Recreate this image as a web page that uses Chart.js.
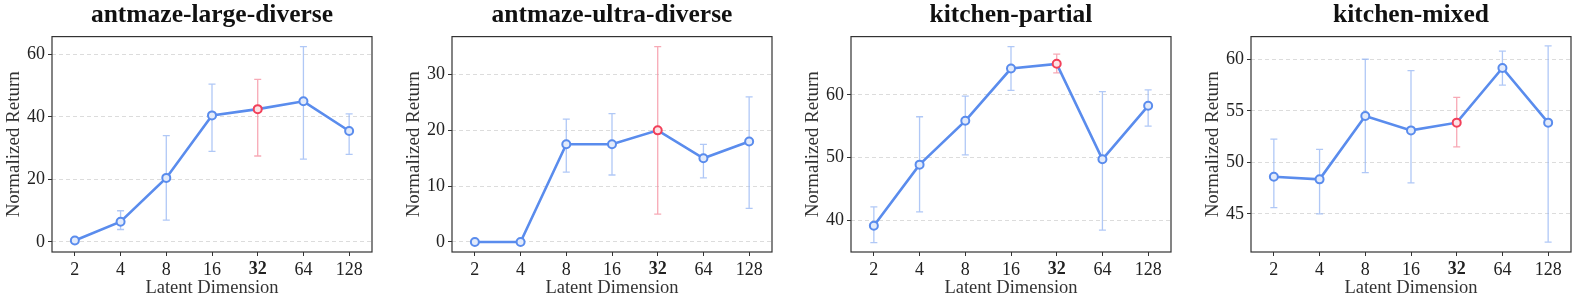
<!DOCTYPE html>
<html>
<head>
<meta charset="utf-8">
<script src="https://cdn.jsdelivr.net/npm/chart.js@4.4.1/dist/chart.umd.min.js"></script>
<style>
  body { margin: 0; background: #fff; }
  #wrap { position: relative; width: 1577px; height: 305px; }
  .panel { position: absolute; top: 0; width: 378px; height: 305px; }
</style>
</head>
<body>
<div id="wrap">
  <div class="panel" style="left:0px"><canvas id="c1" width="378" height="305"></canvas></div>
  <div class="panel" style="left:400px"><canvas id="c2" width="378" height="305"></canvas></div>
  <div class="panel" style="left:799px"><canvas id="c3" width="378" height="305"></canvas></div>
  <div class="panel" style="left:1199px"><canvas id="c4" width="378" height="305"></canvas></div>
</div>
<script>
const dims = ['2', '4', '8', '16', '32', '64', '128'];
const highlight = '32';

// antmaze-large-diverse
const largeMean = [0.5, 6.5, 20.5, 40.5, 42.5, 45, 35.5];
const largeLow  = [0.3, 4, 7, 29, 27.5, 26.5, 28];
const largeHigh = [0.7, 10, 34, 50.5, 52, 62.5, 41];
const largeTicks = [0, 20, 40, 60];

// antmaze-ultra-diverse
const ultraMean = [0, 0, 17.5, 17.5, 20, 15, 18];
const ultraLow  = [0, 0, 12.5, 12, 5, 11.5, 6];
const ultraHigh = [0, 0, 22, 23, 35, 17.5, 26];
const ultraTicks = [0, 10, 20, 30];

// kitchen-partial
const partialMean = [39.1, 48.85, 55.85, 64.2, 64.95, 49.7, 58.25];
const partialLow  = [36.4, 41.3, 50.4, 60.7, 63.5, 38.4, 55.0];
const partialHigh = [42.1, 56.5, 59.8, 67.7, 66.5, 60.5, 60.8];
const partialTicks = [40, 50, 60];

// kitchen-mixed
const mixedMean = [48.6, 48.35, 54.5, 53.1, 53.85, 59.15, 53.85];
const mixedLow  = [45.6, 45, 49, 48, 51.5, 57.5, 42.25];
const mixedHigh = [52.25, 51.25, 60, 58.9, 56.3, 60.8, 61.3];
const mixedTicks = [45, 50, 55, 60];

const blue = '#5a8ced';
const blueFill = '#e3ebfb';
const blueErr = 'rgba(150,182,243,0.75)';
const red = '#f2405a';
const redFill = '#fde2e6';
const redErr = 'rgba(244,140,156,0.75)';
const serif = "'Liberation Serif', 'Times New Roman', serif";

const errorBars = {
  id: 'errorBars',
  beforeDatasetsDraw(chart, args, opts) {
    const {ctx, scales: {x, y}} = chart;
    ctx.save();
    ctx.lineWidth = 1.3;
    opts.low.forEach((lo, i) => {
      const px = x.getPixelForValue(i);
      const y1 = y.getPixelForValue(lo);
      const y2 = y.getPixelForValue(opts.high[i]);
      ctx.strokeStyle = dims[i] === highlight ? redErr : blueErr;
      ctx.beginPath();
      ctx.moveTo(px, y1); ctx.lineTo(px, y2);
      ctx.moveTo(px - 3.5, y1); ctx.lineTo(px + 3.5, y1);
      ctx.moveTo(px - 3.5, y2); ctx.lineTo(px + 3.5, y2);
      ctx.stroke();
    });
    ctx.restore();
  }
};

const frame = {
  id: 'frame',
  afterDatasetsDraw(chart) {
    const {ctx, chartArea: a} = chart;
    ctx.save();
    ctx.strokeStyle = '#333';
    ctx.lineWidth = 1.2;
    ctx.strokeRect(a.left, a.top, a.right - a.left, a.bottom - a.top);
    ctx.restore();
  }
};

function makeChart(id, title, mean, low, high, ticks, yMin, yMax) {
  return new Chart(document.getElementById(id), {
    type: 'line',
    data: {
      labels: dims,
      datasets: [{
        data: mean,
        borderColor: blue,
        borderWidth: 2.6,
        pointRadius: 4,
        pointBorderWidth: 2,
        pointBorderColor: dims.map(d => d === highlight ? red : blue),
        pointBackgroundColor: dims.map(d => d === highlight ? redFill : blueFill),
        tension: 0
      }]
    },
    plugins: [errorBars, frame],
    options: {
      responsive: false,
      animation: false,
      layout: { padding: { left: 0, right: 6, top: 0, bottom: 0 } },
      plugins: {
        legend: { display: false },
        tooltip: { enabled: false },
        title: {
          display: true,
          fullSize: false,
          text: title,
          color: '#111',
          font: { family: serif, size: 25.5, weight: 'bold' },
          padding: { top: 0, bottom: 6 }
        },
        errorBars: { low: low, high: high }
      },
      scales: {
        x: {
          offset: true,
          border: { display: false },
          grid: { drawOnChartArea: false, drawTicks: true, tickLength: 4, tickColor: '#333' },
          ticks: {
            padding: 3,
            color: '#222',
            font: ctx => ({ family: serif, size: 18, weight: ctx.tick && ctx.tick.label === highlight ? 'bold' : 'normal' })
          },
          title: {
            display: true,
            text: 'Latent Dimension',
            color: '#333',
            font: { family: serif, size: 18.5 },
            padding: { top: 0, bottom: 6 }
          },
          afterFit(scale) { scale.height = 53; }
        },
        y: {
          min: yMin,
          max: yMax,
          border: { display: false, dash: [4, 3] },
          grid: {
            color: '#dcdcdc',
            lineWidth: 1,
            drawTicks: true,
            tickLength: 4,
            tickColor: '#333'
          },
          ticks: { padding: 3, color: '#222', font: { family: serif, size: 18 } },
          afterBuildTicks(scale) { scale.ticks = ticks.map(v => ({ value: v })); },
          title: {
            display: true,
            text: 'Normalized Return',
            color: '#333',
            font: { family: serif, size: 19 },
            padding: { top: 3, bottom: 0 }
          },
          afterFit(scale) { scale.width = 52; }
        }
      }
    }
  });
}

makeChart('c1', 'antmaze-large-diverse', largeMean, largeLow, largeHigh, largeTicks, -3.2, 65.7);
makeChart('c2', 'antmaze-ultra-diverse', ultraMean, ultraLow, ultraHigh, ultraTicks, -1.8, 36.8);
makeChart('c3', 'kitchen-partial', partialMean, partialLow, partialHigh, partialTicks, 34.9, 69.3);
makeChart('c4', 'kitchen-mixed', mixedMean, mixedLow, mixedHigh, mixedTicks, 41.3, 62.2);
</script>
</body>
</html>
